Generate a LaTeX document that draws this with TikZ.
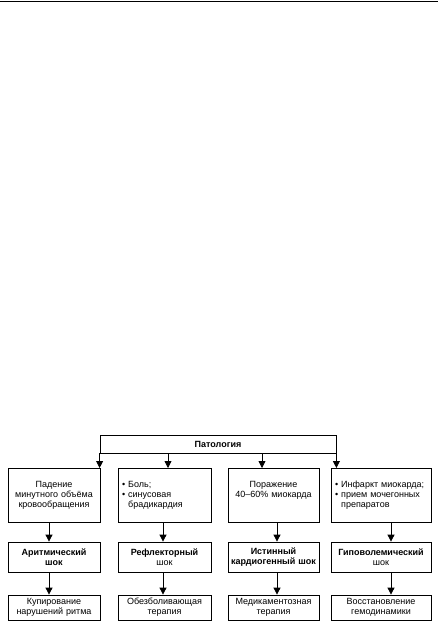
\documentclass[tikz,border=0pt]{standalone}
\usepackage{fontspec}
\setmainfont{Liberation Sans}
\usetikzlibrary{positioning, arrows.meta}

\begin{document}
\begin{tikzpicture}[x=1pt, y=-1pt,
        every node/.style={font=\fontsize{9}{10}\selectfont},
        box/.style={rectangle, draw, line width=0.8pt, inner xsep=4pt,
          inner ysep=0pt, align=center},
        cause/.style={box, anchor=north, text width=#1-8pt,
          text height=19pt, text depth=35pt},
        bullets/.style={cause=#1, align=left},
        shock/.style={box, inner xsep=0.5pt, text width=#1-1pt, minimum height=30pt},
        cure/.style={box, inner xsep=1pt, text width=#1-2pt, minimum height=25pt},
        hdr/.style={box, font=\fontsize{9}{10}\selectfont\bfseries,
          minimum width=236pt, minimum height=18pt},
        arr/.style={-{Triangle[length=7pt, width=7pt]}, line width=0.8pt}]
      \useasboundingbox (0,0) rectangle (438,623);
      \draw[line width=1.4pt] (0,1.5) -- (438,1.5);

      \node[hdr] (pat) at (218,444) {Патология};

      % causes
      \node[cause=92pt] (b1) at (54,468)
        {Падение\\минутного объёма\\кровообращения};
      \node[bullets=93pt] (b2) at (164.5,468)
        {\textbullet\ Боль;\\\textbullet\ синусовая\\\hphantom{\textbullet\ }брадикардия};
      \node[cause=91pt] (b3) at (273.5,468) {Поражение\\40–60\% миокарда};
      \node[bullets=100pt] (b4) at (381,468)
        {\textbullet\ Инфаркт миокарда;\\\textbullet\ прием мочегонных\\\hphantom{\textbullet\ }препаратов};

      % shock types
      \node[shock=92pt] (s1) at (54,557) {\textbf{Аритмический}\\\textbf{шок}};
      \node[shock=93pt] (s2) at (164.5,557) {\textbf{Рефлекторный}\\шок};
      \node[shock=91pt] (s3) at (273.5,557) {\textbf{Истинный}\\\textbf{кардиогенный шок}};
      \node[shock=100pt] (s4) at (381,557) {\textbf{Гиповолемический}\\шок};

      % treatment
      \node[cure=92pt] (t1) at (54,607.5) {Купирование\\нарушений ритма};
      \node[cure=93pt] (t2) at (164.5,607.5) {Обезболивающая\\терапия};
      \node[cure=91pt] (t3) at (273.5,607.5) {Медикаментозная\\терапия};
      \node[cure=100pt] (t4) at (381,607.5) {Восстановление\\гемодинамики};

      \coordinate (h2) at (168,0);
      \coordinate (h3) at (262,0);
      \coordinate (c1) at (49,0);
      \coordinate (c2) at (163,0);
      \coordinate (c3) at (277,0);
      \coordinate (c4) at (391,0);

      \draw[arr] (pat.south west) -- (pat.south west |- b1.north);
      \draw[arr] (pat.south -| h2) -- (b2.north -| h2);
      \draw[arr] (pat.south -| h3) -- (b3.north -| h3);
      \draw[arr] (pat.south east) -- (pat.south east |- b4.north);

      \draw[arr] (b1.south -| c1) -- (s1.north -| c1);
      \draw[arr] (b2.south -| c2) -- (s2.north -| c2);
      \draw[arr] (b3.south -| c3) -- (s3.north -| c3);
      \draw[arr] (b4.south -| c4) -- (s4.north -| c4);

      \draw[arr] (s1.south -| c1) -- (t1.north -| c1);
      \draw[arr] (s2.south -| c2) -- (t2.north -| c2);
      \draw[arr] (s3.south -| c3) -- (t3.north -| c3);
      \draw[arr] (s4.south -| c4) -- (t4.north -| c4);
    \end{tikzpicture}
\end{document}
